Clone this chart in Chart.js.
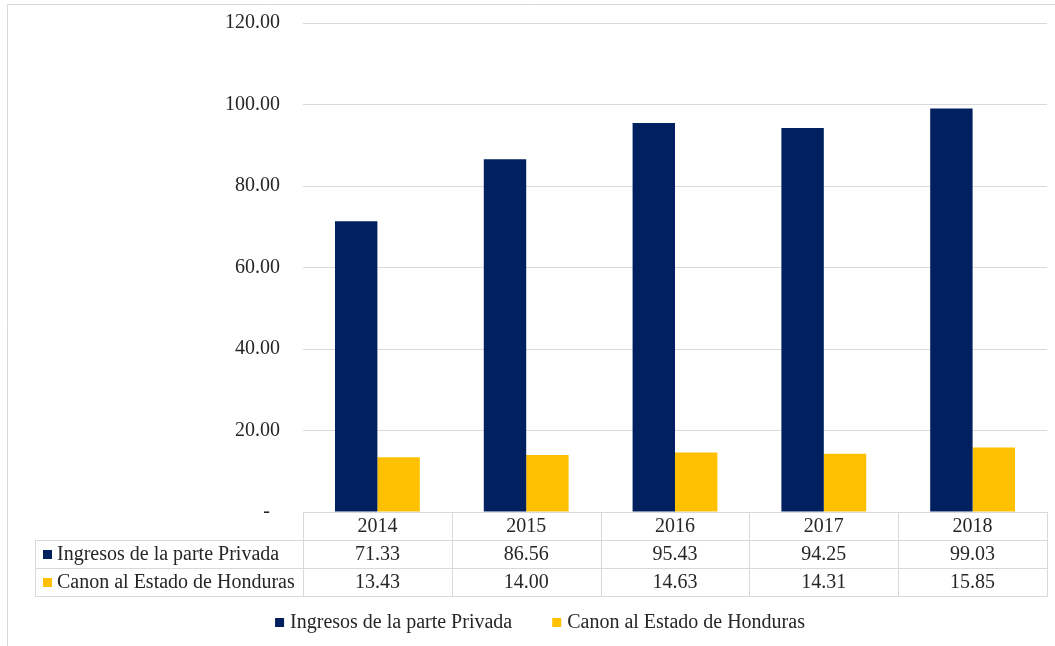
<!DOCTYPE html>
<html>
<head>
<meta charset="utf-8">
<script src="https://cdn.jsdelivr.net/npm/chart.js@4/dist/chart.umd.min.js"></script>
<style>
html,body{margin:0;padding:0;background:#fff;}
#wrap{width:1055px;height:646px;position:relative;}
</style>
</head>
<body>
<div id="wrap"><canvas id="c" width="1055" height="646"></canvas></div>
<script>
const categories = ['2014','2015','2016','2017','2018'];
const seriesNames = ['Ingresos de la parte Privada','Canon al Estado de Honduras'];
const privada = [71.33, 86.56, 95.43, 94.25, 99.03];
const canon = [13.43, 14.00, 14.63, 14.31, 15.85];
const yTicks = [0, 20, 40, 60, 80, 100, 120];
const colors = ['#002060', '#FFC000'];

const FONT = '"Liberation Serif", "Times New Roman", serif';
const FS = 20;
const GRID = '#d9d9d9';
const TEXT = '#262626';

const tablePlugin = {
  id: 'dataTable',
  afterDraw(chart) {
    const ctx = chart.ctx;
    const xs = chart.scales.x;
    const area = chart.chartArea;
    const n = categories.length;
    const step = (area.right - area.left) / n;
    const top = Math.round(area.bottom);
    const rowH = [28, 28, 28];
    const y1 = top + rowH[0], y2 = y1 + rowH[1], y3 = y2 + rowH[2];
    const labelLeft = 35;
    ctx.save();
    ctx.strokeStyle = GRID;
    ctx.lineWidth = 1;
    ctx.beginPath();
    ctx.moveTo(area.left, top + 0.5); ctx.lineTo(area.right, top + 0.5);
    [y1, y2, y3].forEach(y => { ctx.moveTo(labelLeft, y + 0.5); ctx.lineTo(area.right, y + 0.5); });
    for (let i = 0; i <= n; i++) {
      const x = Math.round(area.left + i * step) + 0.5;
      ctx.moveTo(x, top); ctx.lineTo(x, y3 + 0.5);
    }
    ctx.moveTo(labelLeft + 0.5, y1); ctx.lineTo(labelLeft + 0.5, y3 + 0.5);
    ctx.rect(7.5, 4.5, 1100, 700);
    ctx.stroke();

    ctx.fillStyle = TEXT;
    ctx.font = FS + 'px ' + FONT;
    ctx.textAlign = 'center';
    ctx.textBaseline = 'middle';
    const rows = [privada, canon];
    categories.forEach((c, i) => {
      const cx = xs.getPixelForValue(i);
      ctx.fillText(c, cx, top + rowH[0] / 2 + 1);
      ctx.fillText(rows[0][i].toFixed(2), cx, y1 + rowH[1] / 2 + 1);
      ctx.fillText(rows[1][i].toFixed(2), cx, y2 + rowH[2] / 2 + 1);
    });
    ctx.textAlign = 'left';
    [[y1, rowH[1]], [y2, rowH[2]]].forEach(([y, h], k) => {
      ctx.fillStyle = colors[k];
      ctx.fillRect(43, y + h / 2 - 4, 9, 9);
      ctx.fillStyle = TEXT;
      ctx.fillText(seriesNames[k], 57, y + h / 2 + 1);
    });

    // legend
    const ly = 622;
    const widths = seriesNames.map(s => ctx.measureText(s).width);
    const sq = 9, gap = 6, itemGap = 40;
    const total = widths.reduce((a, w) => a + sq + gap + w, 0) + itemGap;
    let x = 540 - total / 2;
    seriesNames.forEach((s, k) => {
      ctx.fillStyle = colors[k];
      ctx.fillRect(x, ly - 4, sq, sq);
      ctx.fillStyle = TEXT;
      ctx.fillText(s, x + sq + gap, ly + 1);
      x += sq + gap + widths[k] + itemGap;
    });
    ctx.restore();
  }
};

new Chart(document.getElementById('c'), {
  type: 'bar',
  data: {
    labels: categories,
    datasets: [
      { label: seriesNames[0], data: privada, backgroundColor: colors[0], categoryPercentage: 0.57, barPercentage: 1.0 },
      { label: seriesNames[1], data: canon, backgroundColor: colors[1], categoryPercentage: 0.57, barPercentage: 1.0 }
    ]
  },
  options: {
    responsive: false,
    animation: false,
    layout: { padding: { top: 23, right: 8, left: 0, bottom: 50 } },
    plugins: {
      legend: { display: false },
      tooltip: { enabled: false }
    },
    scales: {
      x: {
        grid: { display: false },
        border: { display: false },
        ticks: { display: false },
        afterFit(scale) { scale.height = 84; }
      },
      y: {
        min: 0, max: 120,
        afterBuildTicks(scale) { scale.ticks = yTicks.map(v => ({ value: v })); },
        afterFit(scale) { scale.width = 303; },
        grid: { color: GRID, drawTicks: true, tickLength: 23, tickColor: 'rgba(0,0,0,0)', lineWidth: 1 },
        border: { display: false },
        ticks: {
          padding: 0,
          color: TEXT,
          font: { family: FONT, size: FS },
          callback: v => v === 0 ? '-  ' : Number(v).toFixed(2)
        }
      }
    }
  },
  plugins: [tablePlugin]
});
</script>
</body>
</html>
